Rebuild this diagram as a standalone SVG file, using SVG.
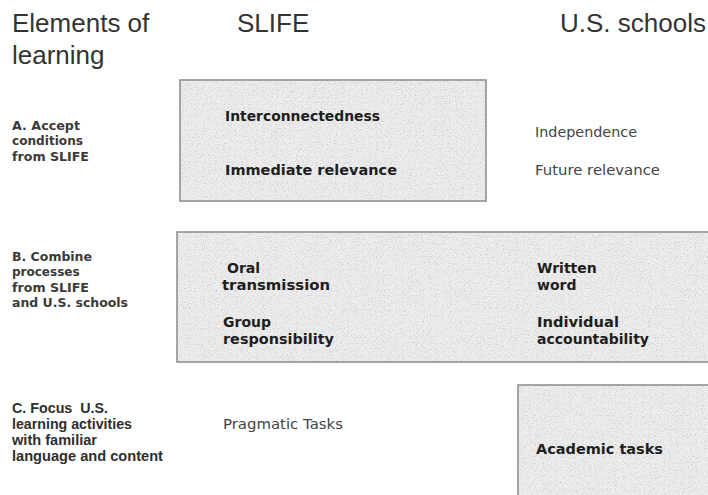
<svg xmlns="http://www.w3.org/2000/svg" width="708" height="495" viewBox="0 0 708 495">
<defs>
<filter id="grain" x="0" y="0" width="1" height="1" filterUnits="objectBoundingBox">
<feTurbulence type="fractalNoise" baseFrequency="0.85" numOctaves="2" seed="7" result="n"/>
<feColorMatrix in="n" type="matrix" values="0 0 0 0 0.5  0 0 0 0 0.5  0 0 0 0 0.5  2.2 0 0 0 -1.1" result="s"/>
<feComposite in="s" in2="SourceGraphic" operator="in"/>
</filter>
<style>
.box{fill:#ededed;stroke:#8f8f8f;stroke-width:1.6}
.noise{fill:#000;filter:url(#grain)}
.hdr{font-family:"Liberation Sans",Arial,sans-serif;font-size:26px;fill:#333}
.lab{font-family:"DejaVu Sans",Verdana,sans-serif;font-weight:bold;font-size:12px;fill:#3a3a3a}
.labc{font-family:"Liberation Sans",Arial,sans-serif;font-weight:bold;font-size:14px;fill:#2e2e2e;white-space:pre}
.bt{font-family:"DejaVu Sans",Verdana,sans-serif;font-weight:bold;font-size:14px;fill:#1e1e1e}
.nt{font-family:"DejaVu Sans",Verdana,sans-serif;font-size:13.5px;fill:#444}
</style>
</defs>
<rect width="708" height="495" fill="#fff"/>

<g id="headers">
<text class="hdr" x="12" y="32">Elements of</text>
<text class="hdr" x="12" y="64">learning</text>
<text class="hdr" x="237" y="32">SLIFE</text>
<text class="hdr" x="560" y="32">U.S. schools</text>
</g>

<g id="label-a">
<text class="lab" x="12" y="130" textLength="68" lengthAdjust="spacingAndGlyphs">A. Accept</text>
<text class="lab" x="12" y="145" textLength="71" lengthAdjust="spacingAndGlyphs">conditions</text>
<text class="lab" x="12" y="161" textLength="77" lengthAdjust="spacingAndGlyphs">from SLIFE</text>
</g>

<g id="label-b">
<text class="lab" x="12" y="261" textLength="80" lengthAdjust="spacingAndGlyphs">B. Combine</text>
<text class="lab" x="12" y="276">processes</text>
<text class="lab" x="12" y="292" textLength="77" lengthAdjust="spacingAndGlyphs">from SLIFE</text>
<text class="lab" x="12" y="307" textLength="116" lengthAdjust="spacingAndGlyphs">and U.S. schools</text>
</g>

<g id="label-c">
<text class="labc" x="12" y="413" xml:space="preserve" textLength="96" lengthAdjust="spacingAndGlyphs">C. Focus  U.S.</text>
<text class="labc" x="12" y="429" textLength="120" lengthAdjust="spacingAndGlyphs">learning activities</text>
<text class="labc" x="12" y="445" textLength="85" lengthAdjust="spacingAndGlyphs">with familiar</text>
<text class="labc" x="12" y="461" textLength="151" lengthAdjust="spacingAndGlyphs">language and content</text>
</g>

<g id="box-a">
<rect class="box" x="180" y="80" width="306" height="121"/>
<rect class="noise" x="181" y="81" width="304" height="119"/>
<text class="bt" x="225" y="121" textLength="155" lengthAdjust="spacingAndGlyphs">Interconnectedness</text>
<text class="bt" x="225" y="175" textLength="172" lengthAdjust="spacingAndGlyphs">Immediate relevance</text>
</g>

<g id="us-a">
<text class="nt" x="535" y="137" textLength="102" lengthAdjust="spacingAndGlyphs">Independence</text>
<text class="nt" x="535" y="175" textLength="125" lengthAdjust="spacingAndGlyphs">Future relevance</text>
</g>

<g id="box-b">
<rect class="box" x="177" y="232" width="534" height="130"/>
<rect class="noise" x="178" y="233" width="530" height="128"/>
<text class="bt" x="227" y="273">Oral</text>
<text class="bt" x="222" y="290" textLength="108" lengthAdjust="spacingAndGlyphs">transmission</text>
<text class="bt" x="223" y="327">Group</text>
<text class="bt" x="223" y="344" textLength="111" lengthAdjust="spacingAndGlyphs">responsibility</text>
<text class="bt" x="537" y="273">Written</text>
<text class="bt" x="537" y="290">word</text>
<text class="bt" x="537" y="327" textLength="82" lengthAdjust="spacingAndGlyphs">Individual</text>
<text class="bt" x="537" y="344" textLength="112" lengthAdjust="spacingAndGlyphs">accountability</text>
</g>

<g id="slife-c">
<text class="nt" x="223" y="429" textLength="120" lengthAdjust="spacingAndGlyphs">Pragmatic Tasks</text>
</g>

<g id="box-c">
<rect class="box" x="518" y="385" width="193" height="115"/>
<rect class="noise" x="519" y="386" width="189" height="109"/>
<text class="bt" x="536" y="454" textLength="127" lengthAdjust="spacingAndGlyphs">Academic tasks</text>
</g>
</svg>
